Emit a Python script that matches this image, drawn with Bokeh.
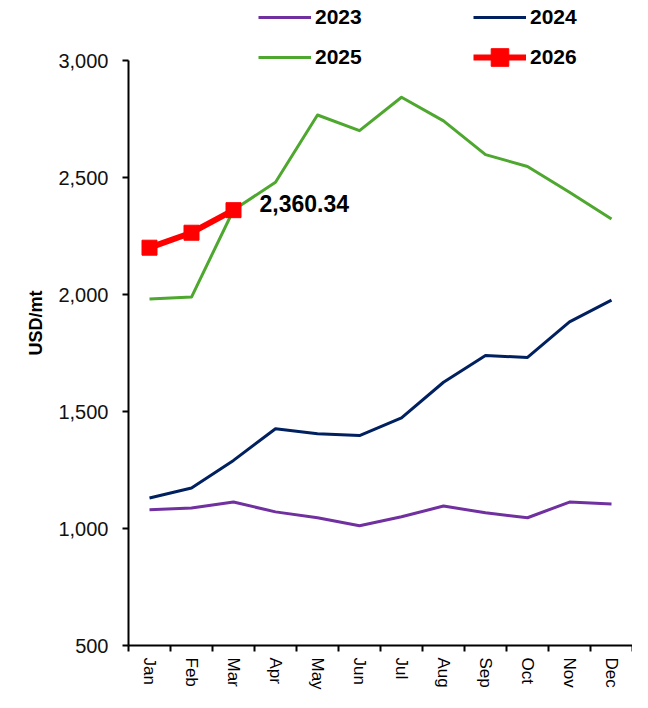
from bokeh.plotting import figure
from bokeh.models import (FixedTicker, NumeralTickFormatter, Legend, LegendItem,
                          Label, Range1d, ColumnDataSource)
from bokeh.embed import file_html
from bokeh.resources import INLINE

months = ["Jan", "Feb", "Mar", "Apr", "May", "Jun", "Jul", "Aug", "Sep", "Oct", "Nov", "Dec"]
v2023 = [1080, 1088, 1113, 1071, 1046, 1012, 1050, 1096, 1067, 1046, 1113, 1105]
v2024 = [1130, 1173, 1291, 1426, 1405, 1397, 1473, 1625, 1739, 1731, 1883, 1976]
v2025 = [1981, 1989, 2361, 2480, 2767, 2700, 2843, 2742, 2598, 2547, 2437, 2323]
v2026 = [2200, 2264, 2360.34]
y_ticks = [500, 1000, 1500, 2000, 2500, 3000]

FONT = "Liberation Sans"
xpos = [i + 0.5 for i in range(len(months))]

W, H = 632, 692
BL, BR, BB = 128, 0, 47
AXIS_TOP = 60                      # screen px where 3000 sits
frame_h = H - BB                   # frame spans from top of canvas
y_lo, y_hi = y_ticks[0], y_ticks[-1]
y_end = y_hi + AXIS_TOP * (y_hi - y_lo) / (frame_h - AXIS_TOP)

p = figure(width=W, height=H, output_backend="svg", toolbar_location=None,
           x_range=Range1d(0, 12), y_range=Range1d(y_lo, y_end),
           min_border_left=BL, min_border_right=BR, min_border_top=0, min_border_bottom=BB)
p.outline_line_color = None
p.grid.grid_line_color = None
p.background_fill_color = "white"
p.border_fill_color = "white"

r23 = p.line(xpos, v2023, line_color="#7030A0", line_width=3, line_join="round")
r24 = p.line(xpos, v2024, line_color="#002060", line_width=3, line_join="round")
r25 = p.line(xpos, v2025, line_color="#4EA72E", line_width=3, line_join="round")
src26 = ColumnDataSource(dict(x=xpos[:len(v2026)], y=v2026))
r26l = p.line("x", "y", source=src26, line_color="#FF0000", line_width=6, line_join="round")
r26m = p.scatter("x", "y", source=src26, marker="square", size=15,
                 fill_color="#FF0000", line_color="#FF0000")

last = len(v2026) - 1
p.add_layout(Label(x=xpos[last], y=v2026[last], x_offset=26, y_offset=7,
                   text=f"{v2026[last]:,.2f}", text_font=FONT, text_font_style="bold",
                   text_font_size="23px", text_color="black", text_baseline="middle"))

# axes
xa = p.xaxis[0]
xa.ticker = FixedTicker(ticks=xpos, minor_ticks=list(range(13)))
xa.major_label_overrides = {x: m for x, m in zip(xpos, months)}
xa.major_label_orientation = "vertical"
xa.major_tick_line_color = None
xa.minor_tick_line_color = "black"
xa.minor_tick_line_width = 2
xa.minor_tick_out = 6
xa.minor_tick_in = 0
xa.axis_line_width = 2
xa.axis_line_color = "black"
xa.major_label_text_font = FONT
xa.major_label_text_font_size = "17px"
xa.major_label_text_color = "black"
xa.major_label_standoff = 6

ya = p.yaxis[0]
ya.ticker = FixedTicker(ticks=y_ticks)
ya.bounds = (y_lo, y_hi)
ya.formatter = NumeralTickFormatter(format="0,0")
ya.minor_tick_line_color = None
ya.major_tick_out = 6
ya.major_tick_in = 0
ya.major_tick_line_width = 2
ya.axis_line_width = 2
ya.axis_line_color = "black"
ya.major_label_text_font = FONT
ya.major_label_text_font_size = "20px"
ya.major_label_text_color = "#111111"
ya.major_label_standoff = 14
ya.axis_label = "USD/mt"
ya.axis_label_text_font = FONT
ya.axis_label_text_font_style = "bold"
ya.axis_label_text_font_size = "18px"
ya.axis_label_text_color = "black"
ya.axis_label_standoff = 9

def make_legend(items, loc, gh):
    return Legend(items=items, location=loc, orientation="horizontal",
                  glyph_width=53, glyph_height=gh, label_height=gh, label_standoff=4,
                  label_width=138, spacing=20, padding=0, margin=0,
                  border_line_color=None, background_fill_alpha=0,
                  label_text_font=FONT, label_text_font_style="bold",
                  label_text_font_size="21px", label_text_color="black")

# legend location = bottom-left corner, measured from the frame's bottom-left
leg1 = make_legend([LegendItem(label="2023", renderers=[r23]),
                    LegendItem(label="2024", renderers=[r24])], (130, frame_h - 30), 26)
leg2 = make_legend([LegendItem(label="2025", renderers=[r25]),
                    LegendItem(label="2026", renderers=[r26l, r26m])], (130, frame_h - 79), 44)
p.add_layout(leg1, "center")
p.add_layout(leg2, "center")

open("out.html", "w").write(file_html(p, INLINE))
